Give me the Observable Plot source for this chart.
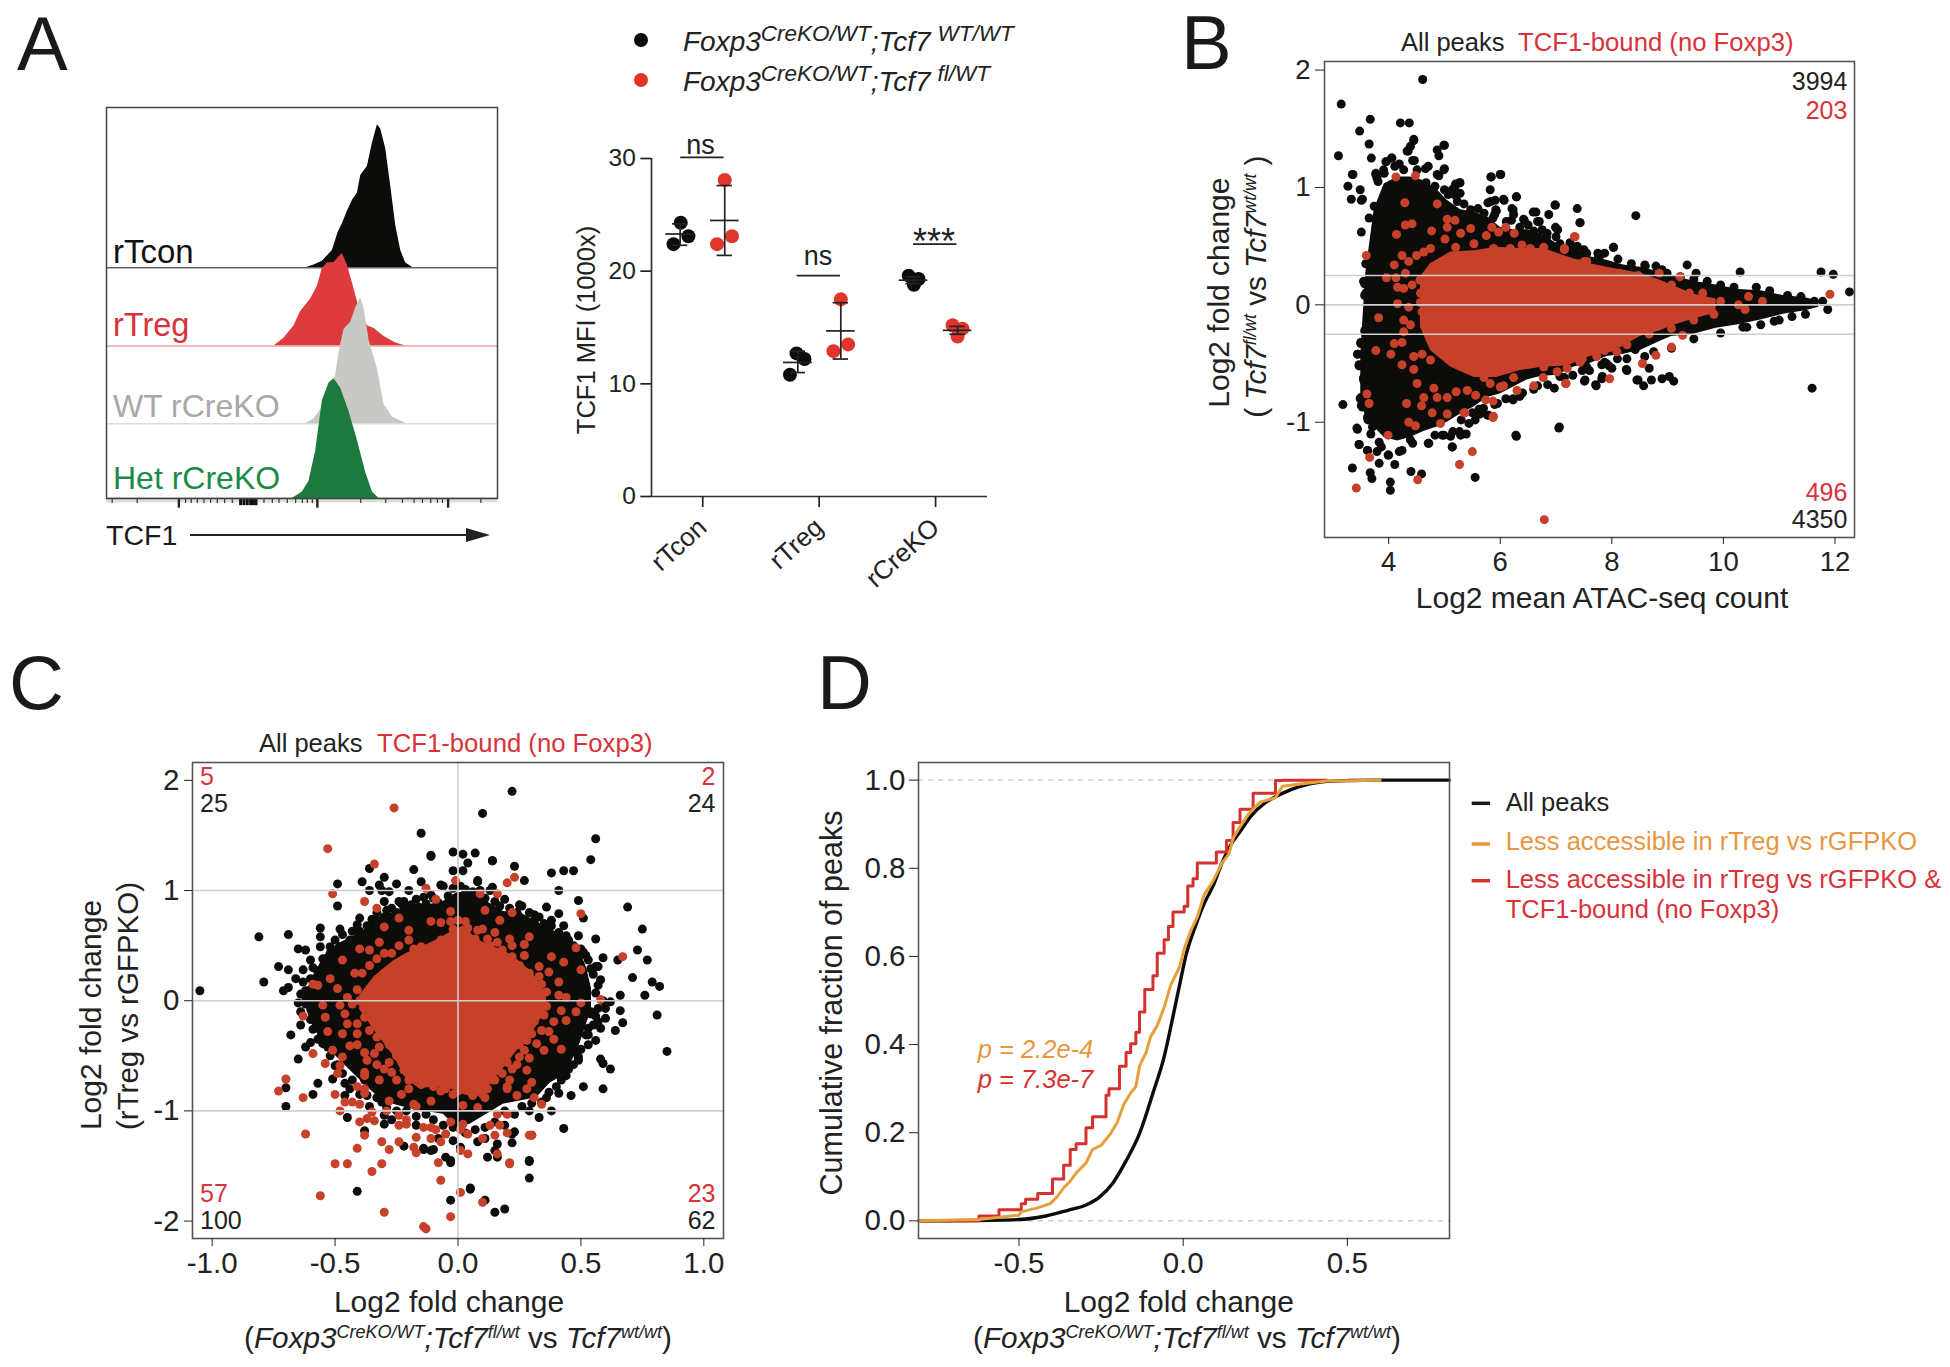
<!DOCTYPE html>
<html>
<head>
<meta charset="utf-8">
<script src="https://cdn.jsdelivr.net/npm/d3@7"></script>
<script src="https://cdn.jsdelivr.net/npm/@observablehq/plot@0.6"></script>
<style>
html,body{margin:0;padding:0;background:#fff}
#page{position:relative;width:1950px;height:1367px;overflow:hidden;background:#fff}
#page svg{position:absolute;background:transparent;overflow:visible}
</style>
</head>
<body>
<div id="page"></div>
<script>
// ---------- Panel A, flow histograms (TCF1 channel, counts; arbitrary units)
const rTconX=[915,940,965,995,1012,1025,1040,1055,1070,1080,1100,1115,1130,1140,1155,1170,1185,1200,1215,1237];
const rTconH=[0,8,18,48,98,123,158,188,208,258,283,348,400,388,333,228,118,48,13,0];
const rTregX=[820,850,880,900,930,950,965,980,1000,1025,1040,1055,1068,1085,1100,1120,1150,1185,1215];
const rTregH=[0,22,57,97,132,167,217,232,234,259,227,177,132,77,57,49,27,9,0];
const wtX=[915,940,960,990,1005,1015,1030,1050,1065,1080,1090,1105,1130,1150,1175,1218];
const wtH=[0,14,39,104,134,199,264,284,324,352,324,234,154,54,19,0];
const hetX=[875,905,925,945,965,985,1000,1020,1045,1070,1095,1115,1135];
const hetH=[0,18,48,133,273,323,335,308,243,163,73,18,0];
const flowRows=[
 {name:"rTcon",base:645,x:rTconX,h:rTconH,fill:"#0c0c0a",line:"#666"},
 {name:"rTreg",base:426,x:rTregX,h:rTregH,fill:"#DD3B3E",line:"#EBA5A5"},
 {name:"WT rCreKO",base:209,x:wtX,h:wtH,fill:"#C8C8C4",line:"#DDDDD8"},
 {name:"Het rCreKO",base:0,x:hetX,h:hetH,fill:"#1D7A3E",line:"#555"}];
const flowMajorTicks=[535,950,1342];
const flowDenseTicks=[720,730,740,750,758,766];
const flowMinorTicks=[335,410,555,572,590,610,630,650,672,695,790,815,835,860,885,905,920,935,1080,1155,1205,1240,1265,1290,1310,1325,1440];

// ---------- Panel A, TCF1 MFI
const mfiGroups=["rTcon","rTreg","rCreKO"];
const mfiBlack=[[.749,22.4],[.811,24.3],[.877,23.1],[1.749,10.8],[1.806,12.7],[1.874,12.2],[2.769,19.6],[2.854,19.3],[2.814,18.8]];
const mfiRed=[[1.123,22.4],[1.189,28.1],[1.251,23.1],[2.123,12.9],[2.186,17.5],[2.249,13.5],[3.146,15.2],[3.231,14.9],[3.189,14.2]];
// centre, mean, low, high
const mfiSummary=[[.806,23.3,22.3,24.2],[1.189,24.5,21.4,27.6],[1.817,11.9,11.0,12.9],[2.186,14.7,12.2,17.2],[2.811,19.2,18.9,19.5],[3.189,14.75,14.4,15.1]];
const mfiBrackets=[[.811,1.183,30.1],[1.811,2.183,19.6],[2.811,3.183,22.4]];

// ---------- Panel B, MA plot
const bEnvX=[3.50,3.59,3.74,3.92,4.16,4.39,4.63,4.87,5.05,5.29,5.53,5.77,6.0,6.24,6.48,6.72,7.02,7.32,7.61,7.91,8.21,8.51,8.87,9.07,9.47,9.87,10.27,10.67,11.07,11.47,11.71];
const bEnvTop=[-.42,.27,.81,1.03,1.09,1.09,1.06,.98,.89,.81,.79,.75,.66,.64,.64,.61,.52,.49,.41,.38,.34,.32,.28,.25,.20,.17,.13,.12,.08,.06,.03];
const bEnvBot=[-.81,-.96,-1.04,-1.13,-1.16,-1.13,-1.08,-1.04,-1.0,-.93,-.87,-.79,-.76,-.70,-.64,-.61,-.60,-.53,-.50,-.44,-.42,-.39,-.31,-.27,-.25,-.20,-.17,-.13,-.08,-.05,-.02];
const bCoreX=[4.57,4.75,5.11,5.53,5.94,6.36,6.78,7.20,7.61,8.03,8.51,8.87,9.07,9.47,9.87];
const bCoreTop=[.24,.35,.45,.46,.49,.48,.48,.41,.35,.31,.27,.21,.17,.09,.05];
const bCoreBot=[-.19,-.39,-.53,-.62,-.62,-.56,-.53,-.52,-.44,-.40,-.27,-.22,-.18,-.12,-.07];
const bBlack=[[4.61,1.92],[3.15,1.71],[3.67,1.58],[3.48,1.48],[4.21,1.55],[4.37,1.55],[3.65,1.37],[3.10,1.27],[3.69,1.25],[4.45,1.41],[4.35,1.31],[4.99,1.36],[4.87,1.32],[4.90,1.27],[3.35,1.11],[3.27,1.01],[3.33,.90],[3.49,.98],[3.51,.89],[3.77,1.11],[3.95,1.22],[4.06,1.25],[4.19,1.20],[4.43,1.23],[4.71,1.18],[4.99,1.15],[4.87,1.11],[5.27,1.04],[5.19,1.01],[5.83,1.09],[6.0,1.11],[6.29,.92],[5.83,.88],[6.07,.89],[5.93,.80],[6.98,.85],[7.38,.82],[8.43,.76],[6.87,.77],[6.59,.79],[7.43,.70],[6.67,.71],[7.03,.64],[6.43,.72],[6.23,.81],[8.03,.49],[7.79,.42],[9.35,.34],[9.51,.27],[10.3,.28],[11.75,.28],[11.97,.26],[12.26,.11],[11.78,.03],[11.87,-.04],[11.59,-.71],[10.42,-.19],[10.91,-.14],[3.51,.62],[3.55,.20],[3.57,.08],[3.57,-.22],[3.50,-.32],[3.44,-.42],[3.47,-.52],[3.55,-.64],[3.18,-.85],[3.50,-.79],[3.51,-.86],[3.63,-.98],[3.43,-1.05],[3.47,-1.19],[3.62,-1.24],[3.35,-1.39],[3.67,-1.43],[3.70,-1.48],[4.03,-1.51],[4.03,-1.58],[3.83,-1.35],[4.11,-1.36],[3.99,-1.28],[3.79,-1.25],[4.40,-1.42],[4.59,-1.44],[5.55,-1.47],[4.71,-1.18],[4.99,-1.11],[5.14,-1.21],[5.27,-1.08],[5.39,-1.10],[6.29,-1.12],[7.06,-1.04],[5.79,-.94],[6.23,-.81],[5.63,-.93],[7.51,-.65],[7.71,-.68],[7.83,-.61],[8.27,-.56],[8.47,-.64],[8.57,-.69],[8.71,-.64],[8.90,-.63],[9.03,-.61],[9.11,-.65],[8.67,-.54],[8.59,-.44],[7.95,-.52],[7.51,-.52],
[3.79,1.08],[3.91,1.15],[4.11,1.18],[4.27,1.15],[4.51,1.15],[4.67,1.04],[4.83,1.01],[5.07,.94],[5.23,.88],[5.47,.81],[5.71,.78],[5.87,.74],[6.11,.71],[6.35,.66],[6.59,.61],[6.83,.57],[7.07,.52],[7.31,.49],[7.55,.44],[7.87,.44],[8.11,.39],[8.35,.35],[8.59,.34],[8.79,.33],[8.99,.27],[9.23,.24],[9.47,.22],[9.71,.20],[9.95,.17],[10.19,.15],[10.59,.15],[10.83,.12],[11.15,.08],[11.39,.07],[11.63,.03],
[11.47,-.08],[11.23,-.10],[11.0,-.13],[10.67,-.17],[10.35,-.19],[9.95,-.24],[9.47,-.29],[9.07,-.37],[8.75,-.40],[8.27,-.46],[7.87,-.49],[7.47,-.56],[7.07,-.61],[6.67,-.69],[6.35,-.78],[5.95,-.84],[5.55,-.98],[5.15,-1.08],[4.83,-1.11],[4.43,-1.18],[4.19,-1.25],[3.87,-1.21],[3.71,-1.04],[3.63,-.84],[3.59,-.64],
[3.96,1.22],[4.05,1.25],[4.45,1.40],[4.39,1.35],[4.33,1.31],[5.0,1.36],[4.46,1.23],[4.66,1.16],[5.0,1.16],[4.90,1.10],[3.36,1.11],[3.53,.90],[3.77,1.12],[3.92,1.12],[3.81,1.05],[3.74,.84],[3.65,.74],[5.28,1.04],[5.2,1.03],[5.28,.95],[5.14,.98],[5.84,1.09],[6.01,1.11],[5.82,.98],[5.78,.87],[5.91,.89],[6.06,.90],[5.92,.81],[6.29,.92],[6.21,.82],[6.24,.77],[6.42,.73],[6.64,.79],[6.99,.85],[6.70,.71],[6.6,.63],[6.99,.66],[6.84,.61],[7.43,.70],[8.03,.49],[7.38,.50],[7.08,.49],[7.76,.41],
[3.59,.35],[3.57,.18],[3.59,.10],[3.71,-.10],[3.59,-.22],[3.50,-.33],[3.45,-.42],[3.47,-.51],[3.55,-.62],[3.49,-.80],[3.53,-.87],[3.62,-.96],[3.44,-1.06],[3.68,-1.10],[3.47,-1.19],[3.83,-1.17],[3.62,-1.24],[4.0,-1.28],[4.24,-1.24],[4.39,-1.15],[4.21,-1.08],[4.72,-1.18],[4.96,-1.11],[5.14,-1.21],[5.29,-1.11],[5.44,-1.01],[5.11,-1.12],[5.62,-.89],[5.77,-.94],[6.23,-.80],[6.28,-1.11],[7.05,-1.05],[6.97,-.71],[7.52,-.64],[7.72,-.69],[7.82,-.63],[8.26,-.55],[8.0,-.54],[7.82,-.51],[7.55,-.53],[8.45,-.64],[8.42,-.38],
[5.3,-.98],[5.5,-.92],[5.7,-.88],[5.9,-.85],[6.1,-.8],[6.4,-.75],[6.6,-.72],[6.85,-.68],[7.15,-.62],[7.3,-.6],[7.6,-.56],[7.9,-.5],[8.1,-.46],[8.6,.33],[8.9,.3],[5.0,.98],[5.2,.93],[5.35,.86],[5.6,.82],[5.9,.77],[6.2,.72],[6.5,.68],[6.75,.64],[7.0,.58],[7.25,.53],[7.5,.47],[7.75,.44]];
const bRed=[[4.13,1.09],[4.48,1.10],[4.29,.87],[4.87,.86],[5.05,.73],[5.19,.72],[4.30,.68],[4.42,.69],[5.05,.66],[4.77,.63],[4.14,.60],[5.01,.56],[4.75,.48],[4.63,.45],[4.50,.42],[4.24,.42],[4.36,.37],[4.10,.34],[3.60,.42],[3.96,.23],[4.13,.23],[4.30,.27],[4.68,.21],[4.56,.21],[4.42,.17],[4.16,.15],[4.27,.14],[4.57,.10],[4.57,.02],[4.16,.01],[4.36,-.02],[4.60,-.06],[3.82,-.11],[4.27,-.13],[4.39,-.17],[4.27,-.23],[4.24,-.32],[4.10,-.33],[3.77,-.39],[4.04,-.42],[4.60,-.42],[4.45,-.44],[4.24,-.51],[4.45,-.55],[4.75,-.47],[4.51,-.67],[4.81,-.71],[4.63,-.79],[4.87,-.79],[5.05,-.79],[4.32,-.84],[4.59,-.86],[4.78,-.92],[5.05,-.93],[5.37,-.92],[5.21,-.74],[5.41,-.73],[5.56,-.77],[5.74,-.81],[5.87,-.82],[5.87,-.96],[6.0,-.70],[6.30,-.73],[6.60,-.69],[6.77,-.62],[7.17,-.67],[7.96,-.63],[3.61,-.76],[3.65,-.84],[4.36,-1.0],[4.48,-1.03],[4.93,-1.01],[3.99,-1.11],[5.50,-1.25],[3.66,-1.30],
[5.29,.61],[5.47,.65],[5.20,.49],[5.53,.52],[5.85,.66],[5.97,.62],[6.10,.66],[6.25,.61],[5.75,.59],[6.39,.51],[6.54,.48],[6.78,.49],[7.15,.48],[7.33,.58],[7.55,.37],[7.40,.35],[7.79,.28],[8.14,.27],[8.47,.25],[5.88,.48],[6.18,.48],
[7.20,-.54],[7.02,-.57],[6.78,-.53],[6.24,-.62],[6.06,-.69],[5.82,-.67],[5.71,-.62],[7.73,-.44],[8.09,-.40],[7.43,-.49],
[3.42,-1.56],[4.52,-1.49],[5.27,-1.36],[6.79,-1.83],[5.88,-.95],[5.35,-.92],[8.85,.27],[9.22,.24],[11.91,.09],[10.45,.07],[10.70,.03],[9.63,.10],[9.95,.03],[10.27,0],[10.39,-.04],[9.83,-.08],[9.27,-.26],[9.07,-.36],[8.79,-.43],[8.55,-.50],[7.18,-.67],[7.34,.58],[7.15,.47],[7.51,.37],
[8.75,.19],[9.07,.17],[9.39,.10],[9.47,-.13],[9.07,-.20],[8.67,-.25],[8.27,-.34],[7.87,-.39],[7.47,-.46]];

// ---------- Panel C, fold change vs fold change
const cEnvX=[-.615,-.588,-.547,-.493,-.439,-.385,-.331,-.263,-.195,-.141,-.06,-.005,.049,.117,.184,.252,.32,.374,.442,.496,.523,.543];
const cEnvTop=[.08,.23,.39,.51,.57,.63,.75,.80,.86,.86,.90,.98,.99,.90,.81,.80,.72,.64,.60,.45,.30,.11];
const cEnvBot=[-.09,-.24,-.39,-.51,-.63,-.75,-.86,-.94,-.98,-1.0,-1.03,-1.15,-1.12,-1.03,-.94,-.91,-.88,-.75,-.66,-.39,-.21,-.09];
const cCoreX=[-.40,-.34,-.263,-.209,-.154,-.087,-.033,.022,.076,.13,.184,.238,.30,.36];
const cCoreTop=[.05,.22,.36,.43,.48,.55,.62,.68,.56,.50,.46,.38,.26,.06];
const cCoreBot=[-.08,-.27,-.50,-.72,-.80,-.78,-.80,-.85,-.88,-.76,-.62,-.46,-.30,-.08];
const cBlack=[[-1.05,.09],[-.81,.58],[-.69,.60],[-.79,.17],[-.73,.31],[-.69,.28],[-.71,.09],[-.69,.12],[-.65,.47],[-.62,.46],[-.56,.66],[-.56,.58],[-.56,.49],[-.60,.37],[-.53,.39],[-.57,.27],[-.63,.28],[-.66,.20],[-.63,.17],[-.64,.06],[-.62,-.03],[-.62,.03],[-.57,.06],[-.48,.65],[-.46,.49],[-.49,.43],[-.41,.64],[-.40,.75],[-.35,.74],[-.34,.64],[-.49,.86],[-.49,1.06],[-.39,1.08],[-.36,1.20],[-.30,1.12],[-.32,1.05],[-.36,1.0],[-.28,.99],[-.25,1.06],[-.30,.90],[-.24,.90],[-.22,.84],[-.18,1.19],[-.20,1.0],[-.15,1.08],[-.14,.94],[-.11,1.32],[-.07,1.05],[-.02,1.35],[.02,1.33],[.07,1.34],[.04,1.25],[-.02,1.18],[.02,1.18],[.08,1.09],[.14,1.03],[.14,1.27],[.23,1.22],[.27,1.09],[.38,1.16],[.43,1.18],[.47,1.18],[.41,1.0],[.49,.91],[.51,.75],[.25,.87],[.36,.85],[.41,.79],[.31,.78],[.38,.73],[.43,.68],[.49,.59],[.56,.56],[.59,.39],[.65,.37],[.73,.46],[.77,.37],[.75,.65],[.69,.85],[.57,.31],[.54,.29],[.52,.41],[.71,.21],[.79,.17],[.82,.13],[.76,.05],[.66,.05],[.62,-.01],[.60,-.07],[.66,-.09],[.81,-.13],[.57,-.19],[.60,-.16],[.67,-.20],[.64,-.27],[.58,-.25],[.56,-.36],[.58,-.53],[.62,-.62],[.59,-.57],[.51,-.78],[.59,-.80],[.46,-.86],[.41,-.84],[.49,-.54],[.50,-.44],[.47,-.36],[.53,-.25],[.51,-.06],[.54,-.12],[.43,-1.16],[.38,-1.0],[.33,-1.06],[.30,-1.22],[.22,-1.21],[.22,-1.29],[.16,-1.30],[.15,-1.36],[.12,-1.42],[.29,-1.46],[.29,-1.61],[.16,-1.42],[.05,-1.71],[-.41,-1.73],[-.03,-1.47],[-.05,-1.42],[-.02,-1.27],[.08,-1.28],[-.11,-1.36],[-.14,-1.35],[-.22,-1.32],[-.30,-1.12],[-.38,-1.18],[-.45,-1.06],[-.30,-1.04],[-.31,-.92],[-.33,-.80],[-.38,-.72],[-.46,-.75],[-.46,-.86],[-.51,-.71],[-.57,-.75],[-.59,-.85],[-.70,-.96],[-.70,-.79],[-.65,-.53],[-.62,-.42],[-.60,-.38],[-.68,-.31],[-.64,-.22],[-.57,-.22],[-.50,-.36],[-.56,-.33],
[-.15,1.52],[-.11,1.31],[.10,1.70],[.22,1.90],[.14,1.27],[.56,1.47],[.54,1.28],[.85,-.46],[.29,-1.45],[.23,-1.19],[.05,-1.70],[.11,-1.81],[.15,-1.92],[.19,-1.89],[-.03,-1.81],[-.03,-1.45],[-.14,-1.34],[-.10,-1.35],
[-.44,.55],[-.40,.63],[-.34,.74],[-.29,.82],[-.31,1.0],[-.23,.88],[-.17,.92],[-.11,.96],[-.06,1.04],[.01,1.04],[.08,1.08],[.13,1.0],[.19,.92],[.26,.86],[.33,.76],[.38,.68],[.44,.59],[.50,.47],[.56,.31],[.57,.14],[.54,-.10],[.53,-.31],[.49,-.51],[.44,-.68],[.36,-.88],[.29,-1.0],[.19,-1.13],[.11,-1.25],[.01,-1.33],[-.08,-1.25],[-.17,-1.13],[-.27,-1.08],[-.36,-.96],[-.44,-.80],[-.50,-.59],[-.55,-.39],[-.58,-.14],[-.60,.10],[-.57,.27],[-.52,.43],[-.48,.49],
[-.5,.55],[-.47,.60],[-.43,.63],[-.41,.69],[-.37,.68],[-.33,.80],[-.30,.76],[-.27,.84],[-.25,.80],[-.22,.90],[-.19,.87],[-.16,.85],[-.13,.88],[-.10,.93],[-.08,.89],[-.04,.95],[-.02,1.02],[.03,1.01],[.06,.99],[.09,1.0],[.11,.93],[.15,.90],[.17,.86],[.21,.84],[.24,.80],[.29,.80],[.31,.72],[.35,.70],[.37,.64],[.41,.62],[.45,.55],[.47,.50],[.51,.44],[.53,.37],[.55,.24],[.58,.19],[.56,.07],[.59,.0],[.57,-.07],[.56,-.14],[.55,-.22],[.52,-.31],[.53,-.40],[.48,-.47],[.47,-.58],[.45,-.62],[.42,-.72],[.40,-.78],[.37,-.83],[.34,-.92],[.30,-.93],[.26,-.96],[.23,-1.03],[.19,-1.0],[.15,-1.1],[.11,-1.15],[.07,-1.17],[.03,-1.2],[-.02,-1.15],[-.06,-1.13],[-.10,-1.08],[-.13,-1.03],[-.17,-1.05],[-.21,-1.0],[-.25,-1.0],[-.29,-.97],[-.33,-.88],[-.37,-.86],[-.40,-.85],[-.43,-.72],[-.47,-.66],[-.49,-.58],[-.52,-.50],[-.53,-.42],[-.57,-.35],[-.59,-.26],[-.60,-.17],[-.64,-.10],[-.65,-.02],[-.62,.09],[-.60,.20],[-.59,.30],[-.55,.38],[-.52,.49]];
const cRed=[[-.40,.47],[-.36,.46],[-.30,.43],[-.24,.75],[-.20,.64],[-.20,.55],[-.15,.49],[-.11,.72],[-.07,.71],[-.03,.72],[0,.73],[-.03,.81],[.10,.65],[.08,.64],[.12,.56],[.11,.82],[.17,.73],[.21,.56],[.29,.58],[.27,.51],[.27,.41],[.16,.53],[.38,.40],[.33,.31],[.29,.25],[.33,.22],[.37,.26],[.28,.15],[.32,.09],[.36,.08],[.41,.17],[.44,.03],[.41,.05],[.50,.28],[.48,.48],[.43,.35],[.50,-.02],[.48,-.10],[.42,-.09],[.44,-.18],[.39,-.19],[.35,-.13],[.31,-.19],[.34,-.27],[.39,-.35],[.42,-.44],[.35,-.45],[.32,-.39],[.28,-.36],[.28,-.63],[.25,-.51],[.18,-.66],[.20,-.78],[.28,-.80],[.31,-.88],[.34,-.94],[.30,-.74],[.24,-.86],[.14,-.72],[.10,-.85],[.05,-.80],[.08,-.97],[.02,-.95],[-.03,-.75],[-.02,-.85],[-.07,-.82],[-.11,-.91],[-.18,-.94],[-.23,-.85],[-.28,-.91],[-.32,-.72],[-.25,-.72],[-.37,-.54],[-.38,-.65],[-.41,-.78],[-.38,-.80],[-.35,-1.01],[-.40,-.94],[-.43,-.92],[-.46,-.92],[-.48,-1.0],[-.50,-.85],[-.49,-.66],[-.48,-.59],[-.47,-.51],[-.51,-.45],[-.54,-.57],[-.59,-.48],[-.53,-.28],[-.54,-.15],[-.55,-.04],[-.47,-.30],[-.45,-.21],[-.46,-.12],[-.48,-.04],[-.41,-.21],[-.44,-.41],[-.38,-.47],[-.33,-.33],[-.33,-.09],[-.38,-.07],[-.45,.03],[-.49,.11],[-.52,.20],[-.57,.14],[-.59,.15],[-.42,.25],[-.47,.37],[-.36,.32],[-.39,.25],[-.32,.53],[-.30,.67],[-.38,.90],[-.33,.84],[-.13,1.02],[-.09,.92],[-.01,1.09],[.09,.97],[.16,.97],[.20,1.07],[.23,1.12],[.22,.80],[.50,.79],[.67,.40],[.58,.01],[-.63,-.14],[-.70,-.71],[-.73,-.82],[-.63,-.88],[-.62,-1.21],[-.41,-1.34],[-.50,-1.48],[-.45,-1.48],[-.35,-1.55],[-.31,-1.48],[-.56,-1.77],[-.07,-1.63],[-.08,-1.47],[.01,-1.74],[.21,-1.48],[.16,-1.39],[.29,-1.22],[.20,-1.20],[.15,-1.22],[.17,-1.13],[.13,-1.13],[.16,-1.03],[.20,-1.03],[.04,-1.21],[.04,-1.39],[.01,-1.36],[-.05,-1.21],[-.03,-1.10],[.02,-1.12],[-.11,-1.15],[-.14,-1.15],[-.17,-1.24],[-.11,-1.25],[-.07,-1.28],[-.17,-1.38],[-.18,-1.33],[-.24,-1.28],[-.28,-1.35],[-.31,-1.28],[-.24,-1.13],[-.21,-1.12],[-.24,-1.04],[-.34,-1.09],[-.37,-1.07],[-.40,-1.10],[-.38,-1.22],[-.51,.97],[-.53,1.38],[-.34,1.24],
[-.26,1.75],[.10,-1.83],[-.03,-1.96],[-.14,-2.05],[-.13,-2.07],[-.30,-1.92],[.30,-1.22],[.21,-1.47],[.10,-1.25],[.01,-1.17],[-.09,-1.17],[-.21,-1.08],[-.29,-1.0],[-.17,-.96],[-.38,-.84],[-.38,-.68],[.11,-.88],[.20,-.80],
[-.31,.18],[-.34,.10],[-.35,.02],[-.36,-.05],[-.34,-.14],[-.31,-.22],[-.36,-.27],[-.30,-.30],[-.28,-.40],[-.32,-.42],[-.25,-.50],[-.28,-.56],[-.22,-.63],[-.27,-.65],[-.20,-.72],[-.15,-.76],[-.20,-.80],[-.10,-.78],[-.05,-.80],[.0,-.82],[.06,-.86],[.12,-.80],[.15,-.72],[.22,-.62],[.24,-.58],[.20,-.56],[.27,-.45],[.30,-.30],[.25,-.40],[.32,-.10],[.31,0],[.28,.20],[.25,.32],[.22,.40],[.18,.46],[.13,.50],[.07,.56],[.04,.66],[-.02,.65],[-.07,.55],[-.11,.45],[-.16,.42],[-.21,.37],[-.26,.30],[-.30,.25],[-.27,.43],[-.33,.38],[-.24,.50],[-.18,.47],[-.41,.10],[-.40,.0],[-.43,-.03],[-.38,-.15],[-.41,-.30],[-.34,-.48],[-.30,-.62],[-.41,-.40],[-.33,-.58],[.36,-.05],[.37,-.28],[.29,-.52],[.21,-.72],[.34,.15],[.15,.62],[.22,.50],[.03,.72]];

// ---------- Panel D, cumulative distributions
const allX=[-.80,-.622,-.5,-.418,-.351,-.296,-.255,-.215,-.174,-.133,-.092,-.058,-.031,-.011,.01,.037,.064,.091,.118,.145,.173,.207,.247,.302,.356,.424,.505,.6,.81];
const allY=[0,.001,.003,.011,.024,.036,.054,.085,.136,.198,.29,.372,.464,.535,.607,.668,.72,.76,.812,.853,.883,.919,.947,.97,.986,.996,.999,1,1];
const lessX=[-.806,-.622,-.5,-.493,-.446,-.405,-.385,-.364,-.344,-.323,-.296,-.276,-.249,-.221,-.201,-.181,-.16,-.144,-.133,-.113,-.099,-.079,-.058,-.038,-.011,.003,.023,.043,.064,.091,.118,.139,.152,.173,.2,.234,.281,.302,.356,.438,.6];
const lessY=[0,.003,.013,.021,.029,.039,.054,.075,.09,.111,.131,.162,.172,.198,.223,.264,.29,.305,.351,.382,.418,.443,.484,.535,.576,.617,.658,.689,.74,.771,.812,.832,.868,.894,.924,.95,.96,.986,.991,.998,1];
const boundX=[-.806,-.622,-.561,-.493,-.48,-.443,-.398,-.364,-.344,-.326,-.296,-.276,-.235,-.226,-.194,-.174,-.16,-.144,-.133,-.117,-.092,-.079,-.058,-.045,-.031,.003,.014,.03,.043,.101,.132,.152,.173,.213,.281,.302,.438];
const boundY=[0,.011,.025,.039,.049,.062,.095,.126,.162,.175,.211,.236,.285,.3,.351,.382,.402,.428,.474,.525,.556,.607,.638,.668,.701,.714,.76,.776,.812,.837,.863,.904,.934,.97,.999,1,1];

// ---------- palette
const INK="#222", BLACK="#0c0c0a", DOTRED="#C6402A", TXTRED="#D8323A", ORANGE="#E6A03A", LEGORANGE="#E8963F", LINERED="#D5322E", FRAME="#555", GRID="#cfcfcf";
const FONT='"Liberation Sans", Arial, sans-serif';
const page=document.getElementById("page");

function panel(box,margins,opts){
  const [l,t,r,b]=box, [ml,mt,mr,mb]=margins;
  const svg=Plot.plot({
    width:Math.round(r-l+ml+mr),height:Math.round(b-t+mt+mb),
    marginLeft:ml,marginTop:mt,marginRight:mr,marginBottom:mb,
    style:{fontFamily:FONT,fontSize:opts.fontSize+"px",color:INK,background:"transparent",overflow:"visible"},
    x:{...opts.x,label:null,axis:null},
    y:{...opts.y,label:null,axis:null},
    marks:opts.marks});
  svg.style.left=(l-ml)+"px"; svg.style.top=(t-mt)+"px";
  page.appendChild(svg);
}
function dots(a,fill,r=4.5){return Plot.dot(a,{x:d=>d[0],y:d=>d[1],r,fill,stroke:"none"});}
function band(x,top,bot,fill){return Plot.areaY(x,{x:x,y1:bot,y2:top,fill,curve:"linear"});}

// ---------- A flow
panel([106,107,496.7,497.5],[2,2,2,16],{fontSize:10,
  x:{domain:[318,1490]},y:{domain:[0,1093]},
  marks:[
    ...flowRows.flatMap(r=>[
      Plot.areaY(r.x,{x:r.x,y1:()=>r.base,y2:r.h.map(h=>h+r.base),fill:r.fill}),
      Plot.ruleY([r.base],{stroke:r.line,strokeWidth:1.5})
    ]),
    Plot.ruleY([-8],{stroke:"#CFE0D3",strokeWidth:2}),
    Plot.ruleX(flowMinorTicks,{y1:0,y2:-14,stroke:"#333",strokeWidth:1.2}),
    Plot.ruleX(flowDenseTicks,{y1:0,y2:-20,stroke:"#111",strokeWidth:3}),
    Plot.ruleX(flowMajorTicks,{y1:0,y2:-27,stroke:"#222",strokeWidth:2.4}),
    Plot.frame({stroke:"#444",strokeWidth:1.5})
  ]});

// ---------- A MFI
panel([650.7,158,987,496],[60,4,2,100],{fontSize:24.5,
  x:{domain:[.56,3.446]},y:{domain:[0,30]},
  marks:[
    dots(mfiBlack,BLACK,7),dots(mfiRed,"#E0352B",7),
    Plot.ruleX(mfiSummary,{x:d=>d[0],y1:d=>d[2],y2:d=>d[3],stroke:INK,strokeWidth:1.7}),
    Plot.ruleY(mfiSummary,{y:d=>d[1],x1:d=>d[0]-.123,x2:d=>d[0]+.123,stroke:INK,strokeWidth:1.7}),
    Plot.ruleY(mfiSummary,{y:d=>d[2],x1:d=>d[0]-.066,x2:d=>d[0]+.066,stroke:INK,strokeWidth:1.7}),
    Plot.ruleY(mfiSummary,{y:d=>d[3],x1:d=>d[0]-.066,x2:d=>d[0]+.066,stroke:INK,strokeWidth:1.7}),
    Plot.ruleY(mfiBrackets,{y:d=>d[2],x1:d=>d[0],x2:d=>d[1],stroke:INK,strokeWidth:1.7}),
    Plot.ruleX([.56],{stroke:"#333",strokeWidth:1.7}),
    Plot.ruleY([0],{stroke:"#333",strokeWidth:1.7}),
    Plot.axisY({ticks:[0,10,20,30],tickSize:10.7,tickPadding:5,label:null,strokeWidth:1.7,tickFormat:d=>String(d)}),
    Plot.axisX({ticks:[1,2,3],tickSize:11,tickPadding:16,label:null,tickRotate:-42,strokeWidth:1.7,fontSize:26,tickFormat:d=>mfiGroups[d-1]})
  ]});

// ---------- B
panel([1323.8,61.3,1854,537],[60,2,2,50],{fontSize:27.5,
  x:{domain:[2.85,12.35]},y:{domain:[-1.982,2.073]},
  marks:[
    band(bEnvX,bEnvTop,bEnvBot,BLACK),dots(bBlack,BLACK),
    band(bCoreX,bCoreTop,bCoreBot,DOTRED),dots(bRed,DOTRED),
    Plot.ruleY([-.25,0,.25],{stroke:GRID,strokeWidth:1.6}),
    Plot.frame({stroke:FRAME,strokeWidth:1.6}),
    Plot.axisY({ticks:[-1,0,1,2],tickSize:9,tickPadding:5,label:null,tickFormat:d=>String(d)}),
    Plot.axisX({ticks:[4,6,8,10,12],tickSize:7,tickPadding:7,label:null,tickFormat:d=>String(d)})
  ]});

// ---------- C
panel([192.4,762.3,723.7,1238],[60,2,4,50],{fontSize:29.5,
  x:{domain:[-1.08,1.08]},y:{domain:[-2.158,2.162]},
  marks:[
    band(cEnvX,cEnvTop,cEnvBot,BLACK),dots(cBlack,BLACK),
    band(cCoreX,cCoreTop,cCoreBot,DOTRED),dots(cRed,DOTRED),
    Plot.ruleY([-1,0,1],{stroke:GRID,strokeWidth:1.6}),
    Plot.ruleX([0],{stroke:GRID,strokeWidth:1.6}),
    Plot.frame({stroke:FRAME,strokeWidth:1.6}),
    Plot.axisY({ticks:[-2,-1,0,1,2],tickSize:8,tickPadding:5,label:null,tickFormat:d=>String(d)}),
    Plot.axisX({ticks:[-1,-.5,0,.5,1],tickSize:8,tickPadding:6,label:null,tickFormat:d=>d.toFixed(1)})
  ]});

// ---------- D
panel([918.3,762.3,1449.6,1238],[70,2,2,50],{fontSize:29.5,
  x:{domain:[-.806,.811]},y:{domain:[-.04,1.04]},
  marks:[
    Plot.ruleY([0,1],{stroke:"#c4c4c4",strokeWidth:1.4,strokeDasharray:"5,5"}),
    Plot.line(allX,{x:allX,y:allY,stroke:BLACK,strokeWidth:3.4,curve:"monotone-x"}),
    Plot.line(boundX,{x:boundX,y:boundY,stroke:LINERED,strokeWidth:3,curve:"step-after"}),
    Plot.line(lessX,{x:lessX,y:lessY,stroke:ORANGE,strokeWidth:3,curve:"linear"}),
    Plot.frame({stroke:FRAME,strokeWidth:1.6}),
    Plot.axisY({ticks:[0,.2,.4,.6,.8,1],tickSize:9,tickPadding:4,label:null,tickFormat:d=>d.toFixed(1)}),
    Plot.axisX({ticks:[-.5,0,.5],tickSize:8,tickPadding:6,label:null,tickFormat:d=>d.toFixed(1)})
  ]});

// ---------- labels and annotations (an overlay of real text)
const over=d3.create("svg").attr("width",1950).attr("height",1367)
  .style("left","0px").style("top","0px").style("pointer-events","none")
  .attr("font-family",FONT);
const I=t=>({t,i:1}), S=(t,dx)=>({t,i:1,s:1,dx});
function label(x,y,parts,o={}){
  const size=o.size||25, sup=o.sup||size*.6, rise=o.rise||size*.36;
  const el=over.append("text").attr("x",x).attr("y",y).attr("font-size",size)
    .attr("fill",o.fill||INK).attr("text-anchor",o.anchor||"start");
  if(o.rotate) el.attr("transform",`rotate(${o.rotate} ${x} ${y})`);
  let raised=false;
  for(const p of (Array.isArray(parts)?parts:[parts])){
    const q=typeof p==="string"?{t:p}:p, ts=el.append("tspan").text(q.t);
    if(q.i) ts.attr("font-style","italic");
    if(q.dx) ts.attr("dx",q.dx);
    if(q.s){ts.attr("font-size",sup); if(!raised){ts.attr("dy",-rise);raised=true;}}
    else if(raised){ts.attr("dy",rise);raised=false;}
  }
}
// panel letters
[["A",17,70],["B",1181,69],["C",9,709],["D",817,709]].forEach(([t,x,y])=>label(x,y,t,{size:76,fill:"#1a1a1a"}));
// A flow
label(113,262.5,"rTcon",{size:33,fill:"#111"});
label(113,335.7,"rTreg",{size:32.5,fill:"#D8323A"});
label(113,417,"WT rCreKO",{size:32,fill:"#A8A8A4"});
label(113,489,"Het rCreKO",{size:32,fill:"#1B8A45"});
label(106,545,"TCF1",{size:28.5,fill:"#1a1a1a"});
over.append("line").attr("x1",190).attr("x2",470).attr("y1",535).attr("y2",535).attr("stroke","#222").attr("stroke-width",1.8);
over.append("path").attr("d","M466 528 L490 535 L466 542 Z").attr("fill","#222");
// A legend
over.append("circle").attr("cx",641).attr("cy",40).attr("r",7).attr("fill",BLACK);
over.append("circle").attr("cx",641).attr("cy",80).attr("r",7).attr("fill","#E0352B");
label(683,51,[I("Foxp3"),S("CreKO/WT"),I(";Tcf7"),S("WT/WT",7)],{size:28,sup:22.5,rise:10});
label(683,91,[I("Foxp3"),S("CreKO/WT"),I(";Tcf7"),S("fl/WT",7)],{size:28,sup:22.5,rise:10});
// A MFI
label(595,330,"TCF1 MFI (1000x)",{size:25.5,anchor:"middle",rotate:-90});
[[700.5,154,"ns"],[818,265,"ns"]].forEach(([x,y,t])=>label(x,y,t,{size:27,anchor:"middle"}));
label(934,254,"***",{size:36,anchor:"middle"});
// B
label(1401,51,"All peaks",{size:25.5});
label(1518,51,"TCF1-bound (no Foxp3)",{size:25.7,fill:TXTRED});
label(1847.4,90,"3994",{size:25,anchor:"end"});
label(1847.4,119.4,"203",{size:25,anchor:"end",fill:TXTRED});
label(1847.4,501,"496",{size:25,anchor:"end",fill:TXTRED});
label(1847.4,528,"4350",{size:25,anchor:"end"});
label(1602,608,"Log2 mean ATAC-seq count",{size:30,anchor:"middle"});
label(1229,292.6,"Log2 fold change",{size:30,anchor:"middle",rotate:-90});
label(1266,286.7,["( ",I("Tcf7"),S("fl/wt"),{t:" vs "},I("Tcf7"),S("wt/wt"),{t:" )"}],{size:29.5,sup:17.5,rise:10,anchor:"middle",rotate:-90});
// C
label(259,752.4,"All peaks",{size:25.5});
label(377,752.4,"TCF1-bound (no Foxp3)",{size:25.7,fill:TXTRED});
label(200,785,"5",{size:25,fill:TXTRED});
label(200,812,"25",{size:25});
label(200,1202,"57",{size:25,fill:TXTRED});
label(200,1229.4,"100",{size:25});
label(715.5,785,"2",{size:25,anchor:"end",fill:TXTRED});
label(715.5,812,"24",{size:25,anchor:"end"});
label(715.5,1202,"23",{size:25,anchor:"end",fill:TXTRED});
label(715.5,1229.4,"62",{size:25,anchor:"end"});
label(449,1312,"Log2 fold change",{size:30,anchor:"middle"});
const foxLine=["(",I("Foxp3"),S("CreKO/WT"),I(";Tcf7"),S("fl/wt"),{t:" vs "},I("Tcf7"),S("wt/wt"),")"];
label(458,1348,foxLine,{size:29.7,sup:18,rise:10,anchor:"middle"});
label(101,1015,"Log2 fold change",{size:30,anchor:"middle",rotate:-90});
label(138,1006,"(rTreg vs rGFPKO)",{size:29.5,anchor:"middle",rotate:-90});
// D
label(842,1003,"Cumulative fraction of peaks",{size:30.5,anchor:"middle",rotate:-90});
label(1178.8,1312,"Log2 fold change",{size:30,anchor:"middle"});
label(1187,1348,foxLine,{size:29.7,sup:18,rise:10,anchor:"middle"});
label(977.7,1057.7,[I("p = 2.2e-4")],{size:25.5,fill:LEGORANGE});
label(977.7,1088.3,[I("p = 7.3e-7")],{size:25.5,fill:LINERED});
// D legend
[[803.3,"#1a1a1a"],[844,LEGORANGE],[880.7,LINERED]].forEach(([y,c])=>over.append("line").attr("x1",1471.7).attr("x2",1490).attr("y1",y).attr("y2",y).attr("stroke",c).attr("stroke-width",3.5));
label(1505.7,811,"All peaks",{size:25.5});
label(1505.7,850,"Less accessible in rTreg vs rGFPKO",{size:25.5,fill:LEGORANGE});
label(1505.7,888,"Less accessible in rTreg vs rGFPKO &",{size:25.5,fill:TXTRED});
label(1505.7,918,"TCF1-bound (no Foxp3)",{size:25.5,fill:TXTRED});
page.appendChild(over.node());
</script>
</body>
</html>
